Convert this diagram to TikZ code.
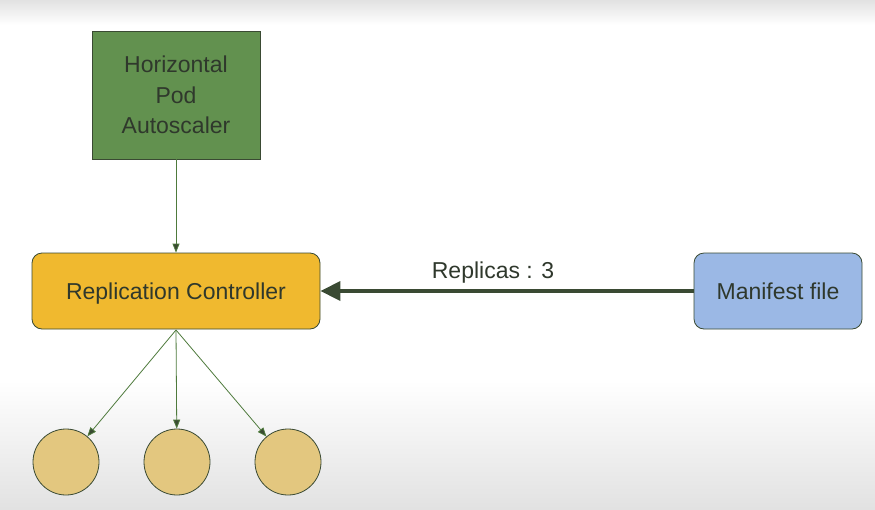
\documentclass[tikz,border=0pt]{standalone}
\usepackage{fontspec}
\setmainfont{Liberation Sans}
\usetikzlibrary{arrows.meta}
\definecolor{hpagreen}{HTML}{62914F}
\definecolor{rcyellow}{HTML}{F0B92F}
\definecolor{mfblue}{HTML}{9BB8E5}
\definecolor{podfill}{HTML}{E3C77F}
\definecolor{edgegreen}{HTML}{4E7A3C}
\definecolor{darkline}{HTML}{3A4A33}
\definecolor{txt}{HTML}{2F382C}
\definecolor{bggray}{HTML}{E2E2E2}
\begin{document}
\begin{tikzpicture}[x=1pt,y=-1pt,
  box/.style={draw=darkline, line width=0.8pt, text=txt, font=\fontsize{23}{30.5}\selectfont, align=center, inner sep=0pt, text depth=0pt},
  pod/.style={circle, draw=darkline, line width=0.8pt, fill=podfill, minimum size=66pt, inner sep=0pt},
  thin/.style={draw=edgegreen, line width=0.8pt, -{Triangle[length=9pt,width=7pt,fill=darkline]}},
  thick/.style={draw=darkline, line width=3.5pt, -{Triangle[length=20pt,width=19pt]}}]
\useasboundingbox (0,0) rectangle (875,509);
\fill[white] (0,0) rectangle (875,509);
\shade[top color=bggray, bottom color=white] (0,0) rectangle (875,25);
\shade[top color=white, bottom color=bggray] (0,380) rectangle (875,509);
\node[box, fill=hpagreen, minimum width=168pt, minimum height=128pt] (hpa) at (176,95) {Horizontal\\Pod\\Autoscaler};
\node[box, fill=rcyellow, rounded corners=10pt, minimum width=288pt, minimum height=76pt] (rc) at (176,291) {Replication Controller};
\node[box, fill=mfblue, rounded corners=10pt, minimum width=168pt, minimum height=76pt] (mf) at (778,291) {Manifest file};
\node[pod] (p1) at (66,462) {};
\node[pod] (p2) at (177,462) {};
\node[pod] (p3) at (288,462) {};
\draw[thin] (hpa.south) -- (rc.north);
\draw[thick] (mf.west) -- (rc.east);
\node[anchor=base, text=txt, font=\fontsize{23}{26}\selectfont, inner sep=0pt] (lbl) at (493,278) {Replicas : 3};
\coordinate (rcb) at (176,330);
\draw[thin] (rcb) -- (p1);
\draw[thin] (rcb) -- (p2);
\draw[thin] (rcb) -- (p3);
\end{tikzpicture}
\end{document}
